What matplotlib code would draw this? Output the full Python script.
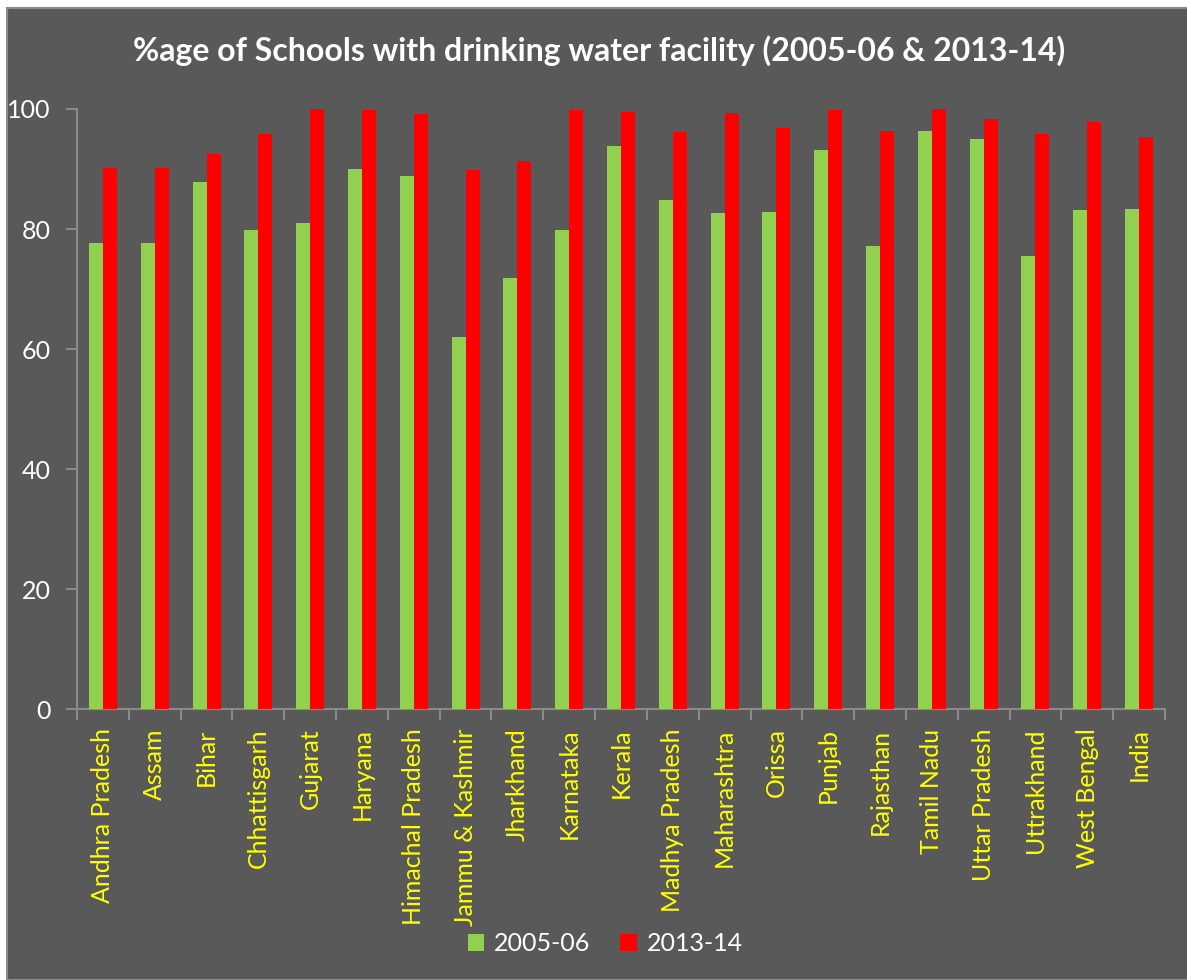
"""Percentage of schools with drinking water facility, 2005-06 vs 2013-14."""

import matplotlib.pyplot as plt
import numpy as np
from matplotlib.patches import Rectangle

states = [
    "Andhra Pradesh", "Assam", "Bihar", "Chhattisgarh", "Gujarat", "Haryana",
    "Himachal Pradesh", "Jammu & Kashmir", "Jharkhand", "Karnataka", "Kerala",
    "Madhya Pradesh", "Maharashtra", "Orissa", "Punjab", "Rajasthan",
    "Tamil Nadu", "Uttar Pradesh", "Uttrakhand", "West Bengal", "India",
]
pct_2005 = [77.7, 77.7, 87.8, 79.8, 81.0, 90.0, 88.8, 62.0, 71.8, 79.8, 93.8,
            84.8, 82.7, 82.9, 93.1, 77.2, 96.3, 95.0, 75.5, 83.2, 83.3]
pct_2013 = [90.2, 90.2, 92.5, 95.8, 100.0, 99.8, 99.2, 89.9, 91.3, 99.8, 99.5,
            96.2, 99.4, 96.9, 99.8, 96.4, 100.0, 98.3, 95.9, 97.9, 95.4]
yticks = [0, 20, 40, 60, 80, 100]

BG = "#595959"
GREEN = "#92D050"
RED = "#FF0000"
plt.rcParams["font.family"] = ["Lato", "DejaVu Sans"]

fig = plt.figure(figsize=(11.87, 9.80), dpi=100, facecolor="white")
# dark chart area with thin grey border, leaving a white strip top and left
fig.patches.append(Rectangle((7 / 1187, 0), 1.0, (980 - 8) / 980,
                             transform=fig.transFigure, facecolor=BG,
                             edgecolor="#8a8a8a", lw=1.5, zorder=-5))

ax = fig.add_axes([77 / 1187, (980 - 709) / 980, (1165 - 77) / 1187, 600 / 980])
ax.set_facecolor(BG)

x = np.arange(len(states))
w = 0.27
ax.bar(x - w / 2, pct_2005, w, color=GREEN, label="2005-06", zorder=3)
ax.bar(x + w / 2, pct_2013, w, color=RED, label="2013-14", zorder=3)

ax.set_xlim(-0.5, len(states) - 0.5)
ax.set_ylim(0, 100)
ax.set_yticks(yticks)
ax.set_yticklabels([str(v) for v in yticks], color="white", fontsize=18)
ax.tick_params(axis="y", length=8, width=1.5, color="#8a8a8a", pad=11)

# category labels centred, tick marks at category boundaries
ax.set_xticks(np.arange(len(states) + 1) - 0.5)
ax.set_xticklabels([])
ax.set_xticks(x, minor=True)
ax.set_xticklabels(states, minor=True, rotation=90, color="#FFFF00",
                   fontsize=18, va="top")
ax.tick_params(axis="x", which="major", length=8, width=1.5, color="#8a8a8a")
ax.tick_params(axis="x", which="minor", length=0, pad=14)

for side in ("top", "right"):
    ax.spines[side].set_visible(False)
for side in ("left", "bottom"):
    ax.spines[side].set_color("#8a8a8a")
    ax.spines[side].set_linewidth(1.5)

fig.text(0.505, 0.948, "%age of Schools with drinking water facility (2005-06 & 2013-14)",
         ha="center", va="center", color="white", fontsize=23, fontweight="bold")

fig.legend(loc="center", bbox_to_anchor=(0.51, 0.037), ncol=2, frameon=False,
           fontsize=18, labelcolor="white", handlelength=0.65, handleheight=0.65,
           handletextpad=0.4, columnspacing=1.2)

fig.savefig("out.png", dpi=100, facecolor=fig.get_facecolor())
